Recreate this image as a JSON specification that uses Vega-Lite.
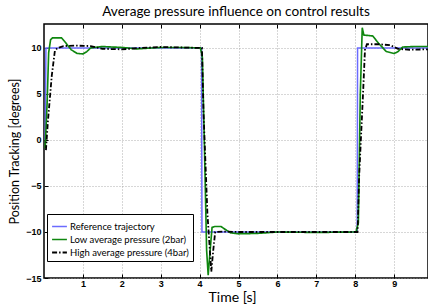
{
  "$schema": "https://vega.github.io/schema/vega-lite/v6.json",
  "width": 384,
  "height": 254,
  "autosize": "none",
  "padding": {"left": 44, "top": 24, "right": 0, "bottom": 27},
  "background": "white",
  "title": {"text": "Average pressure influence on control results", "font": "Lato", "fontSize": 13.6, "fontWeight": "normal", "color": "black", "offset": 5, "anchor": "middle"},
  "config": {
    "view": {"stroke": "black", "strokeWidth": 1.5},
    "axis": {"domain": false, "grid": true, "gridDash": [1, 2], "gridColor": "#999", "gridWidth": 0.8, "tickColor": "black", "tickSize": -4, "tickWidth": 1, "labelFont": "Liberation Sans", "labelFontWeight": "bold", "labelFontSize": 9, "labelColor": "black", "titleFont": "Lato", "titleFontWeight": "normal", "titleColor": "black"}
  },
  "data": {"values": [
    {"series": "Reference trajectory", "t": 0.03, "y": 0},
    {"series": "Reference trajectory", "t": 0.05, "y": 10},
    {"series": "Reference trajectory", "t": 4.05, "y": 10},
    {"series": "Reference trajectory", "t": 4.06, "y": -10},
    {"series": "Reference trajectory", "t": 8.05, "y": -10},
    {"series": "Reference trajectory", "t": 8.06, "y": 10},
    {"series": "Reference trajectory", "t": 9.9, "y": 10},
    {"series": "Low average pressure (2bar)", "t": 0.03, "y": -0.9},
    {"series": "Low average pressure (2bar)", "t": 0.08, "y": 4},
    {"series": "Low average pressure (2bar)", "t": 0.12, "y": 9.5},
    {"series": "Low average pressure (2bar)", "t": 0.17, "y": 10.9},
    {"series": "Low average pressure (2bar)", "t": 0.22, "y": 11.1},
    {"series": "Low average pressure (2bar)", "t": 0.45, "y": 11.1},
    {"series": "Low average pressure (2bar)", "t": 0.55, "y": 10.6},
    {"series": "Low average pressure (2bar)", "t": 0.7, "y": 9.8},
    {"series": "Low average pressure (2bar)", "t": 0.85, "y": 9.4},
    {"series": "Low average pressure (2bar)", "t": 1.0, "y": 9.35},
    {"series": "Low average pressure (2bar)", "t": 1.1, "y": 9.6},
    {"series": "Low average pressure (2bar)", "t": 1.2, "y": 10.0},
    {"series": "Low average pressure (2bar)", "t": 1.5, "y": 10.15},
    {"series": "Low average pressure (2bar)", "t": 2.0, "y": 10.05},
    {"series": "Low average pressure (2bar)", "t": 2.4, "y": 9.9},
    {"series": "Low average pressure (2bar)", "t": 3.0, "y": 10.05},
    {"series": "Low average pressure (2bar)", "t": 3.5, "y": 10.05},
    {"series": "Low average pressure (2bar)", "t": 4.02, "y": 10.0},
    {"series": "Low average pressure (2bar)", "t": 4.07, "y": 9.0},
    {"series": "Low average pressure (2bar)", "t": 4.12, "y": 0},
    {"series": "Low average pressure (2bar)", "t": 4.18, "y": -12},
    {"series": "Low average pressure (2bar)", "t": 4.22, "y": -14.7},
    {"series": "Low average pressure (2bar)", "t": 4.27, "y": -12},
    {"series": "Low average pressure (2bar)", "t": 4.32, "y": -9.5},
    {"series": "Low average pressure (2bar)", "t": 4.4, "y": -9.4},
    {"series": "Low average pressure (2bar)", "t": 4.55, "y": -9.4},
    {"series": "Low average pressure (2bar)", "t": 4.65, "y": -9.7},
    {"series": "Low average pressure (2bar)", "t": 4.8, "y": -10.1},
    {"series": "Low average pressure (2bar)", "t": 5.0, "y": -10.2},
    {"series": "Low average pressure (2bar)", "t": 5.5, "y": -10.15},
    {"series": "Low average pressure (2bar)", "t": 6.0, "y": -10.0},
    {"series": "Low average pressure (2bar)", "t": 7.0, "y": -10.05},
    {"series": "Low average pressure (2bar)", "t": 8.02, "y": -10.0},
    {"series": "Low average pressure (2bar)", "t": 8.08, "y": -9},
    {"series": "Low average pressure (2bar)", "t": 8.13, "y": 5},
    {"series": "Low average pressure (2bar)", "t": 8.18, "y": 12.2},
    {"series": "Low average pressure (2bar)", "t": 8.22, "y": 11.4},
    {"series": "Low average pressure (2bar)", "t": 8.45, "y": 11.3},
    {"series": "Low average pressure (2bar)", "t": 8.6, "y": 10.5},
    {"series": "Low average pressure (2bar)", "t": 8.8, "y": 9.6},
    {"series": "Low average pressure (2bar)", "t": 9.0, "y": 9.4},
    {"series": "Low average pressure (2bar)", "t": 9.1, "y": 9.6},
    {"series": "Low average pressure (2bar)", "t": 9.22, "y": 10.1},
    {"series": "Low average pressure (2bar)", "t": 9.5, "y": 10.15},
    {"series": "Low average pressure (2bar)", "t": 9.9, "y": 10.15},
    {"series": "High average pressure (4bar)", "t": 0.05, "y": -1.1},
    {"series": "High average pressure (4bar)", "t": 0.1, "y": 2},
    {"series": "High average pressure (4bar)", "t": 0.2, "y": 7},
    {"series": "High average pressure (4bar)", "t": 0.28, "y": 9.7},
    {"series": "High average pressure (4bar)", "t": 0.35, "y": 10.0},
    {"series": "High average pressure (4bar)", "t": 0.5, "y": 10.2},
    {"series": "High average pressure (4bar)", "t": 0.8, "y": 10.25},
    {"series": "High average pressure (4bar)", "t": 1.2, "y": 10.2},
    {"series": "High average pressure (4bar)", "t": 1.5, "y": 9.9},
    {"series": "High average pressure (4bar)", "t": 2.0, "y": 9.85},
    {"series": "High average pressure (4bar)", "t": 2.5, "y": 10.0},
    {"series": "High average pressure (4bar)", "t": 3.0, "y": 10.1},
    {"series": "High average pressure (4bar)", "t": 3.5, "y": 10.05},
    {"series": "High average pressure (4bar)", "t": 4.06, "y": 10.0},
    {"series": "High average pressure (4bar)", "t": 4.1, "y": 3},
    {"series": "High average pressure (4bar)", "t": 4.2, "y": -8},
    {"series": "High average pressure (4bar)", "t": 4.3, "y": -14.3},
    {"series": "High average pressure (4bar)", "t": 4.35, "y": -12},
    {"series": "High average pressure (4bar)", "t": 4.4, "y": -10},
    {"series": "High average pressure (4bar)", "t": 4.6, "y": -9.95},
    {"series": "High average pressure (4bar)", "t": 5.0, "y": -10.0},
    {"series": "High average pressure (4bar)", "t": 6.0, "y": -10.0},
    {"series": "High average pressure (4bar)", "t": 7.0, "y": -10.0},
    {"series": "High average pressure (4bar)", "t": 8.06, "y": -10.0},
    {"series": "High average pressure (4bar)", "t": 8.1, "y": -4},
    {"series": "High average pressure (4bar)", "t": 8.2, "y": 5},
    {"series": "High average pressure (4bar)", "t": 8.25, "y": 9.8},
    {"series": "High average pressure (4bar)", "t": 8.3, "y": 10.4},
    {"series": "High average pressure (4bar)", "t": 8.6, "y": 10.4},
    {"series": "High average pressure (4bar)", "t": 8.9, "y": 10.3},
    {"series": "High average pressure (4bar)", "t": 9.1, "y": 9.9},
    {"series": "High average pressure (4bar)", "t": 9.4, "y": 9.8},
    {"series": "High average pressure (4bar)", "t": 9.9, "y": 9.85}
  ]},
  "layer": [
    {
      "mark": {"type": "line", "clip": true},
      "encoding": {
        "x": {"field": "t", "type": "quantitative", "scale": {"domain": [0, 9.87], "nice": false, "zero": false}, "axis": {"orient": "bottom", "values": [1, 2, 3, 4, 5, 6, 7, 8, 9], "title": "Time [s]", "titleFontSize": 14, "titlePadding": 1.5, "titleX": 188, "labelPadding": 5.5}},
        "y": {"field": "y", "type": "quantitative", "scale": {"domain": [-15, 12.6], "nice": false, "zero": false}, "axis": {"values": [-15, -10, -5, 0, 5, 10], "title": "Position Tracking [degrees]", "titleFontSize": 12.5, "labelPadding": 7, "titlePadding": 4}},
        "color": {"field": "series", "type": "nominal", "sort": ["Reference trajectory", "Low average pressure (2bar)", "High average pressure (4bar)"], "scale": {"domain": ["Reference trajectory", "Low average pressure (2bar)", "High average pressure (4bar)"], "range": ["#6b6bff", "#0f870f", "#000000"]},
          "legend": {"title": null, "orient": "none", "legendX": 3, "legendY": 190, "strokeColor": "black", "fillColor": "white", "padding": 4, "symbolType": "stroke", "symbolSize": 220, "symbolStrokeWidth": 1.6, "labelFont": "Lato", "labelFontSize": 9.5, "labelColor": "black", "rowPadding": 0, "labelOffset": 2}},
        "strokeDash": {"field": "series", "type": "nominal", "sort": ["Reference trajectory", "Low average pressure (2bar)", "High average pressure (4bar)"], "scale": {"domain": ["Reference trajectory", "Low average pressure (2bar)", "High average pressure (4bar)"], "range": [[1, 0], [1, 0], [5, 2, 1.5, 2]]}},
        "strokeWidth": {"field": "series", "type": "nominal", "sort": ["Reference trajectory", "Low average pressure (2bar)", "High average pressure (4bar)"], "scale": {"domain": ["Reference trajectory", "Low average pressure (2bar)", "High average pressure (4bar)"], "range": [1.5, 1.8, 1.5]}}
      }
    },
    {
      "mark": {"type": "point", "opacity": 0},
      "encoding": {
        "x": {"field": "t", "type": "quantitative", "axis": {"orient": "top", "values": [1, 2, 3, 4, 5, 6, 7, 8, 9], "labels": false, "grid": false, "title": null}},
        "y": {"field": "y", "type": "quantitative"}
      }
    }
  ],
  "resolve": {"axis": {"x": "independent"}}
}
